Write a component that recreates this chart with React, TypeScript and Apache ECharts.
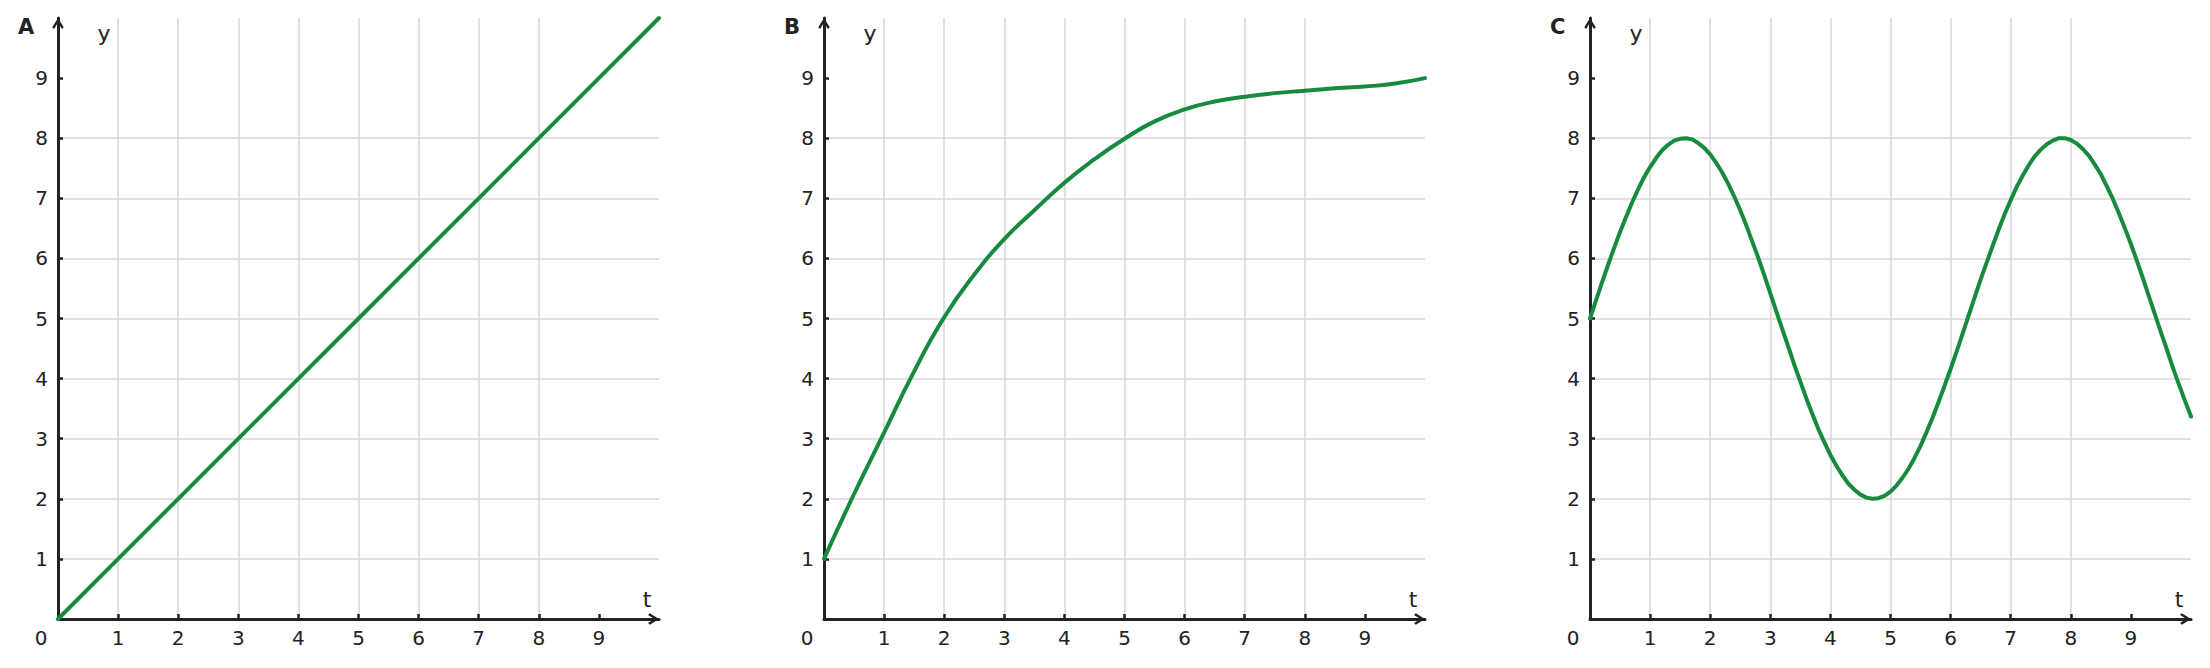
import React, { useEffect, useRef } from "react";
import * as echarts from "echarts";

const panelLetters = ["A", "B", "C"];
const xLabelValues = [0, 1, 2, 3, 4, 5, 6, 7, 8, 9];
const yLabelValues = [1, 2, 3, 4, 5, 6, 7, 8, 9];
const tickValues = [1, 2, 3, 4, 5, 6, 7, 8, 9];

const tA = [0, 1, 2, 3, 4, 5, 6, 7, 8, 9, 10];
const yA = [0, 1, 2, 3, 4, 5, 6, 7, 8, 9, 10];

const tB = [0, 0.5, 1, 1.5, 2, 2.5, 3, 3.5, 4, 4.5, 5, 5.5, 6, 6.5, 7, 7.5, 8, 8.5, 9, 9.5, 10];
const yB = [1.0, 2.08, 3.1, 4.12, 5.02, 5.73, 6.32, 6.8, 7.26, 7.65, 7.99, 8.28, 8.48, 8.61, 8.69, 8.75, 8.79, 8.83, 8.86, 8.91, 9.0];

const tC = [
  0.0, 0.1, 0.2, 0.3, 0.4, 0.5, 0.6, 0.7, 0.8, 0.9,
  1.0, 1.1, 1.2, 1.3, 1.4, 1.5, 1.6, 1.7, 1.8, 1.9,
  2.0, 2.1, 2.2, 2.3, 2.4, 2.5, 2.6, 2.7, 2.8, 2.9,
  3.0, 3.1, 3.2, 3.3, 3.4, 3.5, 3.6, 3.7, 3.8, 3.9,
  4.0, 4.1, 4.2, 4.3, 4.4, 4.5, 4.6, 4.7, 4.8, 4.9,
  5.0, 5.1, 5.2, 5.3, 5.4, 5.5, 5.6, 5.7, 5.8, 5.9,
  6.0, 6.1, 6.2, 6.3, 6.4, 6.5, 6.6, 6.7, 6.8, 6.9,
  7.0, 7.1, 7.2, 7.3, 7.4, 7.5, 7.6, 7.7, 7.8, 7.9,
  8.0, 8.1, 8.2, 8.3, 8.4, 8.5, 8.6, 8.7, 8.8, 8.9,
  9.0, 9.1, 9.2, 9.3, 9.4, 9.5, 9.6, 9.7, 9.8, 9.9,
  10.0,
];
const yC = [
  5.0, 5.3, 5.6, 5.89, 6.17, 6.44, 6.69, 6.93, 7.15, 7.35,
  7.52, 7.67, 7.8, 7.89, 7.96, 7.99, 8.0, 7.98, 7.92, 7.84,
  7.73, 7.59, 7.43, 7.24, 7.03, 6.8, 6.55, 6.28, 6.01, 5.72,
  5.42, 5.12, 4.82, 4.53, 4.23, 3.95, 3.67, 3.41, 3.16, 2.94,
  2.73, 2.55, 2.39, 2.25, 2.15, 2.07, 2.02, 2.0, 2.01, 2.05,
  2.12, 2.22, 2.35, 2.5, 2.68, 2.88, 3.11, 3.35, 3.61, 3.88,
  4.16, 4.45, 4.75, 5.05, 5.35, 5.65, 5.93, 6.21, 6.48, 6.74,
  6.97, 7.19, 7.38, 7.55, 7.7, 7.81, 7.9, 7.96, 8.0, 8.0,
  7.97, 7.91, 7.82, 7.71, 7.56, 7.4, 7.2, 6.99, 6.75, 6.5,
  6.24, 5.96, 5.67, 5.37, 5.07, 4.77, 4.48, 4.18, 3.9, 3.63,
  3.37,
];

const seriesT = [tA, tB, tC];
const seriesY = [yA, yB, yC];
const seriesSmooth = [false, 0.5, false];

const FONT = "DejaVu Sans";
const INK = "#222222";
const GREEN = "#178a3e";
const GRID_COLOR = "#d6d6d6";
const ARROW = "path://M50,0 L100,80 L84,96 L50,40 L16,96 L0,80 Z";

export default function App() {
  const ref = useRef<HTMLDivElement>(null);
  useEffect(() => {
    if (!ref.current) return;
    const chart = echarts.init(ref.current, null, { renderer: "svg" });
    const lefts = [58, 824, 1590];
    const top = 18;
    const size = 601;
    const grids = lefts.map((l) => ({ left: l, top, width: size, height: size, containLabel: false }));
    const commonAxis = (isX: boolean) => ({
      type: "value",
      min: 0,
      max: 10,
      interval: 1,
      axisLine: {
        show: true,
        onZero: false,
        symbol: ["none", ARROW],
        symbolSize: [12, 11],
        symbolOffset: [0, -5.5],
        lineStyle: { color: INK, width: 3 },
      },
      axisTick: {
        show: true,
        inside: true,
        length: 5,
        customValues: tickValues,
        lineStyle: { color: INK, width: 2.5 },
      },
      splitLine: {
        show: true,
        showMinLine: true,
        showMaxLine: false,
        lineStyle: { color: GRID_COLOR, width: 1.5 },
      },
      axisLabel: isX
        ? {
            show: true,
            customValues: xLabelValues,
            margin: 9,
            color: INK,
            fontFamily: FONT,
            fontSize: 20,
            formatter: (v: number) => (v === 0 ? "{z|0}" : String(v)),
            rich: { z: { padding: [0, 34, 0, 0], color: INK, fontFamily: FONT, fontSize: 20 } },
          }
        : {
            show: true,
            customValues: yLabelValues,
            margin: 10,
            color: INK,
            fontFamily: FONT,
            fontSize: 20,
          },
    });
    const xAxis = lefts.map((_, i) => ({ ...commonAxis(true), gridIndex: i, position: "bottom" }));
    const yAxis = lefts.map((_, i) => ({ ...commonAxis(false), gridIndex: i, position: "left" }));
    const series = seriesT.map((ts, i) => ({
      type: "line",
      xAxisIndex: i,
      yAxisIndex: i,
      data: ts.map((t, j) => [t, seriesY[i][j]]),
      showSymbol: false,
      smooth: seriesSmooth[i],
      lineStyle: { color: GREEN, width: 4, join: "round", cap: "round" },
      clip: false,
      z: 5,
    }));
    const graphic: any[] = [];
    lefts.forEach((l, i) => {
      graphic.push({
        type: "text",
        x: l - 40,
        y: 27,
        style: { text: panelLetters[i], font: `bold 21px "${FONT}"`, fill: INK, textAlign: "left", textVerticalAlign: "middle" },
      });
      graphic.push({
        type: "text",
        x: l + 46,
        y: 33,
        style: { text: "y", font: `22px "${FONT}"`, fill: INK, textAlign: "center", textVerticalAlign: "middle" },
      });
      graphic.push({
        type: "text",
        x: l + size - 12,
        y: 599,
        style: { text: "t", font: `22px "${FONT}"`, fill: INK, textAlign: "center", textVerticalAlign: "middle" },
      });
    });
    chart.setOption({
      animation: false,
      backgroundColor: "#ffffff",
      grid: grids,
      xAxis,
      yAxis,
      series,
      graphic,
    });
    return () => chart.dispose();
  }, []);
  return <div ref={ref} style={{ position: "fixed", left: 0, top: 0, width: 2210, height: 668 }} />;
}
